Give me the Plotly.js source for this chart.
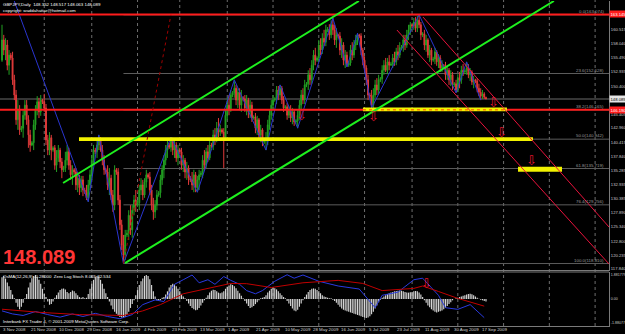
<!DOCTYPE html>
<html><head><meta charset="utf-8">
<script src="https://cdn.plot.ly/plotly-3.0.1.min.js"></script>
<style>html,body{margin:0;padding:0;background:#000;}#chart{width:625px;height:334px;}</style>
</head><body><div id="chart"></div>
<script>
// ---------- GBPJPY daily candles (bar index 0 = 3 Nov 2008) ----------
const openP=[155.0,158.6,156.8,157.7,154.1,155.9,155.4,151.5,148.8,144.4,
146.1,142.6,142.9,145.2,147.0,144.4,141.7,139.9,140.3,143.5,
146.1,147.6,145.8,147.9,147.6,146.5,140.8,139.0,141.2,139.0,
139.4,136.3,137.6,139.0,136.9,135.5,135.8,137.2,138.7,136.3,
134.6,135.5,135.1,132.8,134.0,132.3,133.7,131.9,131.5,130.5,
132.8,134.6,137.2,139.0,138.7,139.9,140.8,139.0,137.2,135.5,
135.1,132.8,134.0,131.0,129.2,135.5,135.1,130.1,125.7,122.1,
120.3,123.9,124.2,127.4,124.8,128.3,130.1,129.2,129.6,131.9,
132.8,131.0,133.3,134.6,134.2,131.9,129.2,128.0,129.2,131.0,
131.4,133.7,135.5,137.2,139.0,139.9,139.5,140.8,139.0,139.9,
137.6,139.0,138.7,136.3,137.2,135.1,135.8,134.0,133.7,132.8,
134.6,132.3,133.7,134.6,134.9,137.2,136.3,138.7,137.6,139.9,
139.7,141.7,140.8,142.9,142.2,142.6,142.2,141.2,145.2,147.0,
146.1,148.8,149.2,150.0,147.9,149.3,147.0,148.3,148.1,146.5,
147.9,145.8,147.0,144.7,144.9,142.9,144.4,141.7,142.6,140.4,
140.6,140.8,143.5,145.2,147.0,147.9,148.1,149.7,148.8,150.0,
147.9,146.5,146.7,145.2,146.1,144.7,145.8,144.0,144.2,145.2,
147.0,148.8,147.9,150.6,150.8,152.4,151.5,154.1,155.9,155.0,
155.4,157.7,156.8,158.9,158.2,160.4,160.5,159.5,161.3,160.4,
158.6,159.5,159.3,156.8,157.7,155.0,155.9,154.1,154.5,156.8,
155.9,157.7,158.6,159.5,159.3,156.8,155.0,153.6,151.5,148.8,
148.6,147.0,148.8,150.6,149.7,151.5,151.7,153.2,154.1,153.2,
154.7,154.1,154.3,155.4,154.7,156.5,155.9,157.2,157.3,158.6,
157.7,159.5,160.4,161.3,161.1,161.8,160.7,162.1,161.3,159.5,
159.7,157.7,158.6,155.9,156.8,155.0,155.2,156.5,154.7,155.4,
153.6,154.1,154.0,152.4,153.2,151.5,152.4,150.6,150.8,149.7,
151.8,151.5,153.2,152.9,153.1,153.6,152.4,152.9,151.1,151.5,
151.3,150.0,149.3,148.6,149.0,148.352];
const highP=[161.3,159.5,158.9,158.6,156.8,156.3,156.5,152.4,149.7,147.9,
147.0,143.3,146.1,147.9,147.9,145.2,142.6,140.6,144.4,147.0,
148.6,148.3,148.8,148.1,149.0,147.2,141.7,142.2,141.7,139.7,
139.9,139.0,139.9,139.4,137.6,136.2,138.7,139.9,139.4,137.2,
136.3,135.8,135.8,135.1,134.6,134.4,134.4,132.3,132.8,133.7,
135.5,138.1,139.9,139.4,140.8,141.7,141.3,139.9,138.1,135.8,
136.3,135.8,134.6,131.9,136.3,135.8,135.8,131.0,126.6,123.9,
124.8,124.8,128.3,129.2,129.2,131.0,131.9,130.1,132.8,134.0,
133.7,134.0,135.5,134.9,135.1,132.8,130.5,130.1,131.9,131.7,
134.6,136.3,138.1,139.9,140.8,140.3,141.3,141.2,140.8,140.4,
139.9,139.4,139.4,138.1,137.6,136.9,136.3,134.4,135.1,135.5,
135.1,134.4,135.5,135.3,138.1,139.0,139.4,139.9,140.8,140.3,
142.6,142.9,144.0,144.7,143.5,142.9,142.9,146.1,148.3,148.8,
149.7,149.5,151.5,150.6,150.0,150.0,149.7,148.6,148.8,148.8,
148.3,147.9,147.6,145.2,145.6,145.1,144.7,143.5,142.9,141.0,
142.2,144.4,146.1,147.9,148.8,148.4,150.4,150.4,150.6,150.4,
148.6,147.0,147.4,146.8,147.0,146.5,146.1,144.5,146.1,147.9,
149.7,150.0,151.5,151.1,153.2,153.6,155.0,156.8,157.2,155.7,
158.6,158.9,159.8,160.4,161.3,160.9,161.4,162.1,162.5,161.3,
160.7,159.7,160.0,158.9,158.2,156.8,156.5,154.9,157.7,158.2,
158.6,159.5,159.8,159.7,159.8,157.2,155.7,154.1,152.4,149.2,
149.7,150.0,151.5,151.8,152.4,152.0,154.1,155.0,155.4,155.4,
155.9,154.7,156.1,156.5,157.2,157.7,158.2,157.7,159.5,159.5,
160.4,161.3,161.8,161.4,162.5,162.7,162.9,163.07,161.8,160.0,
160.4,159.5,158.9,157.7,157.2,155.6,157.2,156.8,156.1,155.9,
155.0,154.3,154.7,154.0,153.6,153.2,152.9,151.1,151.5,152.5,
152.9,154.0,154.3,153.4,154.7,154.3,153.6,153.2,152.2,151.7,
151.8,150.8,150.0,149.7,149.3,148.517];
const lowP=[154.7,155.9,155.0,153.2,152.4,155.0,150.6,147.9,143.5,142.6,
141.7,142.2,141.2,144.4,143.5,139.4,138.7,139.7,139.0,142.6,
145.2,144.7,145.1,147.2,145.8,139.9,138.1,138.1,137.2,138.7,
135.5,135.1,136.9,135.8,134.0,135.1,135.1,136.3,135.5,133.7,
132.8,134.6,131.9,131.5,131.0,131.5,130.8,131.2,130.1,129.8,
131.9,133.7,136.3,138.3,137.6,139.0,138.7,136.3,134.6,134.7,
131.9,131.0,130.1,128.0,128.3,134.6,129.2,124.8,121.2,118.81,
119.4,123.5,123.0,123.9,123.4,127.4,128.0,128.9,128.3,131.0,
130.1,130.5,132.3,133.9,131.0,128.3,126.6,126.9,128.3,130.7,
130.5,132.8,134.0,136.3,137.6,139.2,138.7,138.1,137.6,136.9,
136.3,138.3,135.5,135.1,134.0,133.7,132.8,133.3,131.9,131.5,
131.5,131.5,131.9,134.2,134.0,135.5,135.8,136.9,137.2,139.4,
139.0,139.9,140.4,141.3,141.5,141.9,135.8,140.8,144.4,145.2,
145.8,148.4,148.3,147.0,146.5,146.1,145.8,147.7,145.8,145.2,
144.7,144.7,144.0,144.4,142.0,141.7,140.8,140.4,139.7,140.1,
139.0,139.9,142.6,144.4,146.1,147.6,147.2,147.9,148.3,147.2,
145.8,146.1,144.4,144.7,144.0,143.6,143.3,143.6,142.9,144.4,
146.1,147.2,147.2,150.2,149.7,150.6,150.8,153.2,154.1,154.7,
154.7,155.9,156.1,157.5,157.5,160.0,158.6,158.9,159.5,157.7,
157.2,158.9,155.9,155.4,154.1,153.6,153.8,153.8,154.0,155.0,
155.4,156.8,157.7,158.9,155.9,154.1,152.9,150.6,147.9,148.3,
146.5,146.5,148.3,148.8,149.0,151.1,150.8,152.4,152.9,152.5,
153.2,154.0,153.6,154.0,154.1,155.0,155.4,156.8,156.5,156.8,
157.2,158.6,159.5,160.7,160.4,160.0,160.0,160.7,158.6,159.1,
156.8,156.5,155.4,154.7,154.1,154.7,154.3,154.0,153.6,152.9,
152.9,153.6,151.5,151.5,150.6,150.4,149.7,150.2,149.2,149.3,
150.0,150.8,152.2,152.5,152.4,151.8,151.3,150.6,150.0,150.9,
149.3,148.6,147.9,148.1,148.1,148.063];
const closeP=[158.6,156.8,157.7,154.1,155.9,155.4,151.5,148.8,144.4,146.1,
142.6,142.9,145.2,147.0,144.4,141.7,139.9,140.3,143.5,146.1,
147.6,145.8,147.9,147.6,146.5,140.8,139.0,141.2,139.0,139.4,
136.3,137.6,139.0,136.9,135.5,135.8,137.2,138.7,136.3,134.6,
135.5,135.1,132.8,134.0,132.3,133.7,131.9,131.5,130.5,132.8,
134.6,137.2,139.0,138.7,139.9,140.8,139.0,137.2,135.5,135.1,
132.8,134.0,131.0,129.2,135.5,135.1,130.1,125.7,122.1,120.3,
123.9,124.2,127.4,124.8,128.3,130.1,129.2,129.6,131.9,132.8,
131.0,133.3,134.6,134.2,131.9,129.2,128.0,129.2,131.0,131.4,
133.7,135.5,137.2,139.0,139.9,139.5,140.8,139.0,139.9,137.6,
139.0,138.7,136.3,137.2,135.1,135.8,134.0,133.7,132.8,134.6,
132.3,133.7,134.6,134.9,137.2,136.3,138.7,137.6,139.9,139.7,
141.7,140.8,142.9,142.2,142.6,142.2,141.2,145.2,147.0,146.1,
148.8,149.2,150.0,147.9,149.3,147.0,148.3,148.1,146.5,147.9,
145.8,147.0,144.7,144.9,142.9,144.4,141.7,142.6,140.4,140.6,
140.8,143.5,145.2,147.0,147.9,148.1,149.7,148.8,150.0,147.9,
146.5,146.7,145.2,146.1,144.7,145.8,144.0,144.2,145.2,147.0,
148.8,147.9,150.6,150.8,152.4,151.5,154.1,155.9,155.0,155.4,
157.7,156.8,158.9,158.2,160.4,160.5,159.5,161.3,160.4,158.6,
159.5,159.3,156.8,157.7,155.0,155.9,154.1,154.5,156.8,155.9,
157.7,158.6,159.5,159.3,156.8,155.0,153.6,151.5,148.8,148.6,
147.0,148.8,150.6,149.7,151.5,151.7,153.2,154.1,153.2,154.7,
154.1,154.3,155.4,154.7,156.5,155.9,157.2,157.3,158.6,157.7,
159.5,160.4,161.3,161.1,161.8,160.7,162.1,161.3,159.5,159.7,
157.7,158.6,155.9,156.8,155.0,155.2,156.5,154.7,155.4,153.6,
154.1,154.0,152.4,153.2,151.5,152.4,150.6,150.8,149.7,151.8,
151.5,153.2,152.9,153.1,153.6,152.4,152.9,151.1,151.5,151.3,
150.0,149.3,148.6,149.0,148.4,148.089];

// ---------- OsMA histogram + two indicator lines ----------
const osma=[1.7,1.8,1.6,1.3,1.0,0.7,0.35,0.05,-0.3,-0.6,
-0.8,-0.6,-0.3,0.05,0.4,0.9,1.3,1.6,1.8,1.88,
1.7,1.5,1.2,0.8,0.4,0.15,-0.2,-0.45,-0.4,-0.2,
0.1,0.3,0.5,0.7,0.8,0.83,0.75,0.55,0.45,0.55,
0.66,0.6,0.45,0.3,0.15,0.1,0.15,0.05,0.1,0.4,
0.8,1.2,1.5,1.7,1.8,1.75,1.5,1.2,0.8,0.45,
0.15,-0.2,-0.5,-0.8,-1.0,-1.15,-1.3,-1.4,-1.45,-1.49,
-1.4,-1.25,-1.0,-0.7,-0.4,-0.1,0.3,0.7,1.1,1.4,
1.6,1.8,1.88,1.8,1.55,1.1,0.6,0.2,-0.1,-0.15,
-0.1,0.1,0.15,0.35,0.6,0.9,1.1,1.2,1.15,1.0,
0.8,0.6,0.4,0.2,0.05,-0.15,-0.35,-0.55,-0.7,-0.8,
-0.88,-0.85,-0.7,-0.5,-0.3,-0.1,0.1,0.3,0.5,0.65,
0.73,0.7,0.6,0.5,0.45,0.5,0.6,0.8,0.95,1.05,
1.15,1.1,1.0,0.85,0.65,0.45,0.25,0.05,-0.15,-0.35,
-0.55,-0.7,-0.65,-0.55,-0.4,-0.25,-0.1,0.05,0.1,0.15,
0.3,0.5,0.65,0.8,0.9,0.85,0.75,0.6,0.45,0.3,
0.15,0.05,-0.15,-0.35,-0.55,-0.75,-0.9,-0.95,-0.85,-0.6,
-0.35,-0.1,0.15,0.35,0.55,0.7,0.8,0.83,0.8,0.7,
0.6,0.45,0.3,0.2,0.15,0.1,0.05,0.05,-0.05,-0.15,
-0.3,-0.45,-0.6,-0.75,-0.85,-0.9,-0.95,-1.0,-1.05,-1.1,
-1.15,-1.2,-1.25,-1.3,-1.35,-1.4,-1.45,-1.49,-1.45,-1.35,
-1.2,-1.0,-0.75,-0.5,-0.25,-0.05,0.1,0.2,0.3,0.4,
0.45,0.5,0.55,0.6,0.62,0.64,0.66,0.65,0.6,0.55,
0.5,0.5,0.52,0.55,0.6,0.62,0.6,0.5,0.35,0.15,
-0.1,-0.3,-0.5,-0.65,-0.8,-0.9,-1.0,-1.05,-1.0,-0.95,
-0.9,-0.8,-0.7,-0.55,-0.4,-0.25,-0.1,0.0,0.05,0.1,
0.15,0.2,0.25,0.3,0.35,0.4,0.41,0.38,0.3,0.2,
0.1,0.02,-0.05,-0.1,-0.15,-0.2];
const stochBlueX=[0,6,12,19,26,33,40,46,53,60,67,74,80,87,92,98,103,108,112,117,121,126,130,135,139,144,148,155,162,166,171,180,191,203,212,216,225,234,239,243,248,252,259,266,274];
const stochBlue=[-0.93,-1.17,-1.29,-0.98,-1.22,-1.42,-1.17,-1.37,-1.12,-1.37,-1.54,-1.22,-0.44,-0.07,-0.2,1.15,1.51,1.88,1.27,1.51,1.15,1.76,1.46,1.15,0.66,0.41,0.66,1.39,1.9,1.63,1.88,1.39,1.02,0.78,-0.68,0.29,0.54,1.51,1.63,1.02,0.29,-0.68,-0.81,-0.44,-1.46];
const stochRedX=[0,22,44,62,69,80,90,103,117,130,139,153,171,191,205,216,234,239,248,259,274];
const stochRed=[-0.8,-1.05,-1.22,-1.29,-1.29,-0.93,-0.44,0.41,0.83,1.22,1.2,0.9,1.27,1.46,1.22,0.66,0.83,1.02,0.59,0.05,-0.56];

// ---------- zigzag pivots ----------
const zzX=[5,49,55,69,96,111,132,150,158,168,188,196,202,210,237,258,264,272];
const zzP=[167.2,129.8,141.7,118.81,141.3,131.5,151.5,139.0,150.6,142.9,162.5,153.8,159.8,146.5,163.07,149.2,154.7,147.9];

// ---------- objects ----------
const fibLevels=['0.0','23.6','38.2','50.0','61.8','76.4','100.0'];
const fibPrices=[163.074,152.628,146.165,140.942,135.719,129.256,118.810];
const fibStart=69;
const redLines=[163.145,146.190];
const lastPrice=148.089;
const greenUpper={x:[34.7,202.8],y:[133.14,165.53]};
const greenLower={x:[69.9,313.6],y:[118.9,165.53]};
const redA={x:[239.2,344.9],y:[162.68,125.31]};
const redB={x:[224.4,344.9],y:[160.37,118.73]};
const fibTrend={x:[69,96],y:[118.81,163.074]};
const bands=[{x:[205.1,286.9],y:[145.9,146.6]},{x:[43.75,301.7],y:[140.6,141.3]},{x:[293.2,318.2],y:[135.15,136.05]}];
const arrowsX=[170,211,279,284,301];
const arrowsP=[145.1,144.9,147.4,142.2,137.1];
const priceTicks=[160.515,158.040,155.490,152.935,150.400,145.405,142.960,140.415,137.840,135.285,132.935,130.385,127.890,125.340,122.800,120.235,117.840];
const oscTicks=[1.881779,0,-1.88077];
const oscTickText=['1.881779','0.00','-1.88077'];
const dateIdx=[0,16,32,48,64,80,96,112,128,144,160,176,192,208,224,240,256,272];
const dateText=['3 Nov 2008','21 Nov 2008','10 Dec 2008','29 Dec 2008','16 Jan 2009','4 Feb 2009','23 Feb 2009','13 Mar 2009','1 Apr 2009','21 Apr 2009','10 May 2009','28 May 2009','16 Jun 2009','5 Jul 2009','23 Jul 2009','11 Aug 2009','30 Aug 2009','17 Sep 2009'];
const monthIdx=[24,51,77,101,128,154,180,206,233,259,285,311,337];

const idx=closeP.map((_,i)=>i);
const XR=[-1.14,344.9];
const FONT='Liberation Sans, Arial, sans-serif';

const traces=[
 {type:'candlestick',x:idx,open:openP,high:highP,low:lowP,close:closeP,xaxis:'x',yaxis:'y',
  increasing:{line:{color:'#22a022',width:1},fillcolor:'#22a022'},
  decreasing:{line:{color:'#e23a3a',width:1},fillcolor:'#e23a3a'},whiskerwidth:0,hoverinfo:'skip'},
 {type:'scatter',mode:'lines',x:zzX,y:zzP,xaxis:'x',yaxis:'y',line:{color:'#2a35d0',width:1},hoverinfo:'skip'},
 {type:'bar',x:idx,y:osma,xaxis:'x2',yaxis:'y2',marker:{color:'#d6d6d6',line:{width:0}},hoverinfo:'skip'},
 {type:'scatter',mode:'lines',x:stochBlueX,y:stochBlue,xaxis:'x2',yaxis:'y2',line:{color:'#2a3ae0',width:1},hoverinfo:'skip'},
 {type:'scatter',mode:'lines',x:stochRedX,y:stochRed,xaxis:'x2',yaxis:'y2',line:{color:'#c00000',width:1},hoverinfo:'skip'}
];

const shapes=[];
monthIdx.forEach(m=>shapes.push({type:'line',xref:'x',yref:'paper',x0:m,x1:m,y0:0,y1:1,layer:'below',line:{color:'#6e6e6e',width:1,dash:'dot'}}));
fibPrices.forEach(p=>shapes.push({type:'line',xref:'x',yref:'y',x0:fibStart,x1:XR[1],y0:p,y1:p,layer:'below',line:{color:'#5c5c5c',width:1}}));
shapes.push({type:'line',xref:'x',yref:'y',x0:XR[0],x1:XR[1],y0:lastPrice,y1:lastPrice,layer:'below',line:{color:'#6a6a6a',width:1}});
redLines.forEach(p=>shapes.push({type:'line',xref:'x',yref:'y',x0:XR[0],x1:XR[1],y0:p,y1:p,line:{color:'#ff1c1c',width:2}}));
bands.forEach(b=>shapes.push({type:'rect',xref:'x',yref:'y',x0:b.x[0],x1:b.x[1],y0:b.y[0],y1:b.y[1],fillcolor:'#f2f200',line:{width:0}}));
shapes.push({type:'line',xref:'x',yref:'y',x0:bands[0].x[0],x1:bands[0].x[1],y0:redLines[1],y1:redLines[1],line:{color:'#ff7a00',width:1.5,dash:'dot'}});
[greenUpper,greenLower].forEach(g=>shapes.push({type:'line',xref:'x',yref:'y',x0:g.x[0],x1:g.x[1],y0:g.y[0],y1:g.y[1],line:{color:'#1ef01e',width:2}}));
[redA,redB].forEach(g=>shapes.push({type:'line',xref:'x',yref:'y',x0:g.x[0],x1:g.x[1],y0:g.y[0],y1:g.y[1],line:{color:'#e8123c',width:1}}));
shapes.push({type:'line',xref:'x',yref:'y',x0:fibTrend.x[0],x1:fibTrend.x[1],y0:fibTrend.y[0],y1:fibTrend.y[1],line:{color:'#a00000',width:1,dash:'dot'}});
shapes.push({type:'line',xref:'paper',yref:'paper',x0:0,x1:1,y0:0.1656,y1:0.1656,line:{color:'#7a7a7a',width:1}});

const ann=[];
const txt=(x,y,t,o)=>ann.push(Object.assign({xref:'paper',yref:'paper',x:x,y:y,text:t,showarrow:false,xanchor:'left',yanchor:'middle',borderpad:0,font:{family:FONT,size:4.4,color:'#ffffff'}},o||{}));
txt(0.003,1-4/326,'GBPJPY,Daily  148.352 148.517 148.063 148.089');
txt(0.003,1-10/326,'copyright: waddahattar@hotmail.com');
txt(0.004,1-257/326,'<b>148.089</b>',{font:{family:FONT,size:20,color:'#ff3535'}});
txt(0.003,1-276/326,'OsMA(12,26,9) -0.28000  Zero Lag Stoch 8.065 32.534');
txt(0.003,1-321/326,'Interbank FX Trader 4, \u00a9 2001-2009 MetaQuotes Software Corp.');
dateIdx.forEach((d,k)=>ann.push({xref:'x2',yref:'paper',x:d,y:0,yanchor:'top',xanchor:'left',text:dateText[k],showarrow:false,font:{family:FONT,size:4.4,color:'#d0d0d0'},borderpad:0}));
fibPrices.forEach((p,k)=>ann.push({xref:'paper',yref:'y',x:1,y:p,xshift:-4,xanchor:'right',yanchor:'bottom',text:fibLevels[k]+'('+p.toFixed(3)+')',showarrow:false,font:{family:FONT,size:4.4,color:'#9a9a9a'},borderpad:0}));
const box=(p,t,bg,fg)=>ann.push({xref:'paper',yref:'y',x:1,y:p,xanchor:'left',yanchor:'middle',text:t,showarrow:false,bgcolor:bg,font:{family:FONT,size:4.2,color:fg},borderpad:0.5});
box(redLines[0],redLines[0].toFixed(3),'#ff1c1c','#ffffff');
box(lastPrice,lastPrice.toFixed(3),'#e6e6e6','#000000');
box(redLines[1],redLines[1].toFixed(3),'#ff1c1c','#ffffff');
arrowsX.forEach((x,k)=>ann.push({xref:'x',yref:'y',x:x,y:arrowsP[k],text:'\u21e9',showarrow:false,borderpad:0,font:{family:'DejaVu Sans',size:13,color:'#e0142c'}}));
ann.push({xref:'x2',yref:'y2',x:241,y:1.2,text:'\u21e9',showarrow:false,borderpad:0,font:{family:'DejaVu Sans',size:13,color:'#e0142c'}});

const axBase={showgrid:false,zeroline:false,showline:true,linecolor:'#7a7a7a',linewidth:1,fixedrange:true};
const layout={
 width:625,height:334,margin:{l:0,r:16,t:0,b:8,pad:0},
 paper_bgcolor:'#000000',plot_bgcolor:'#000000',showlegend:false,
 font:{family:FONT,color:'#c8c8c8',size:6},
 bargap:0.35,
 xaxis:Object.assign({},axBase,{domain:[0,1],anchor:'y',range:XR,showticklabels:false,rangeslider:{visible:false}}),
 xaxis2:Object.assign({},axBase,{domain:[0,1],anchor:'y2',matches:'x',range:XR,showticklabels:false}),
 yaxis:Object.assign({},axBase,{domain:[0.1718,0.9969],anchor:'x',side:'right',range:[117.66,165.53],tickvals:priceTicks,ticktext:priceTicks.map(v=>v.toFixed(3)),tickfont:{family:FONT,size:4.2,color:'#c8c8c8'},ticks:'',ticklabelstandoff:0}),
 yaxis2:Object.assign({},axBase,{domain:[0,0.1656],anchor:'x2',side:'right',range:[-2.114,2.114],tickvals:oscTicks,ticktext:oscTickText,tickfont:{family:FONT,size:3.6,color:'#c8c8c8'},ticks:'',ticklabelstandoff:0}),
 shapes:shapes,annotations:ann
};
Plotly.newPlot('chart',traces,layout,{staticPlot:true,displayModeBar:false});
</script></body></html>
